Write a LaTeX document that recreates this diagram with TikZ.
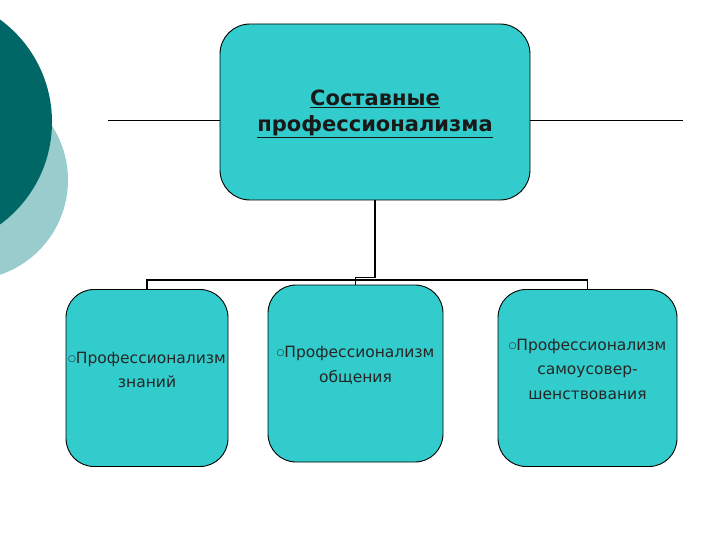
\documentclass[tikz,border=0pt]{standalone}
\usepackage{fontspec}
\setmainfont{DejaVu Sans}
\usetikzlibrary{positioning}
\definecolor{boxcyan}{RGB}{51,204,204}
\definecolor{darkteal}{RGB}{0,102,102}
\definecolor{paleteal}{RGB}{153,204,204}
\tikzset{
  box/.style={draw=black, fill=boxcyan, rounded corners=28pt, line width=0.9pt},
  conn/.style={draw=black, line width=1.6pt},
  lbl/.style={align=center, font=\fontsize{15.5}{24.5}\selectfont, text=black!85}
}
\newcommand{\bul}{\raisebox{2pt}{\fontsize{9}{9}\selectfont○}}

\begin{document}
\begin{tikzpicture}[x=1pt,y=-1pt]
    \useasboundingbox (0,0) rectangle (720,540);
    \begin{scope}
    \clip (0,0) rectangle (720,540);
    \fill[paleteal] (-32,180) circle (100);
    \fill[darkteal] (-75,122) circle (127);
    \end{scope}

    \node[box, minimum width=310pt, minimum height=176pt, rounded corners=30pt] (top) at (375,112) {};
    \node[box, minimum width=162pt, minimum height=177pt] (kn) at (147,378) {};
    \node[box, minimum width=175pt, minimum height=177pt] (ob) at (355.5,373.5) {};
    \node[box, minimum width=179pt, minimum height=177pt] (sa) at (587.5,378) {};

    \node[align=center, font=\fontsize{21}{26}\selectfont\bfseries, text=black!90] (toptxt) at ([yshift=-2pt]top.center)
        {\underline{Составные}\\\underline{профессионализма}};
    \node[lbl] (kntxt) at ([yshift=8pt]kn.center) {\bul Профессионализм\\знаний};
    \node[lbl] (obtxt) at ([yshift=8pt]ob.center) {\bul Профессионализм\\общения};
    \node[lbl] (satxt) at ([yshift=9pt]sa.center) {\bul Профессионализм\\самоусовер-\\шенствования};

    % side rules
    \coordinate (hl) at (108,120);
    \coordinate (hr) at (683,120);
    \draw[line width=0.9pt] (hl) -- (hl -| top.west);
    \draw[line width=0.9pt] (hr -| top.east) -- (hr);

    % connectors
    \draw[conn] (top.south) -- ++(0,77) -| (ob.north);
    \draw[conn] (kn.north) -- ++(0,-9) -| (sa.north);
\end{tikzpicture}
\end{document}
